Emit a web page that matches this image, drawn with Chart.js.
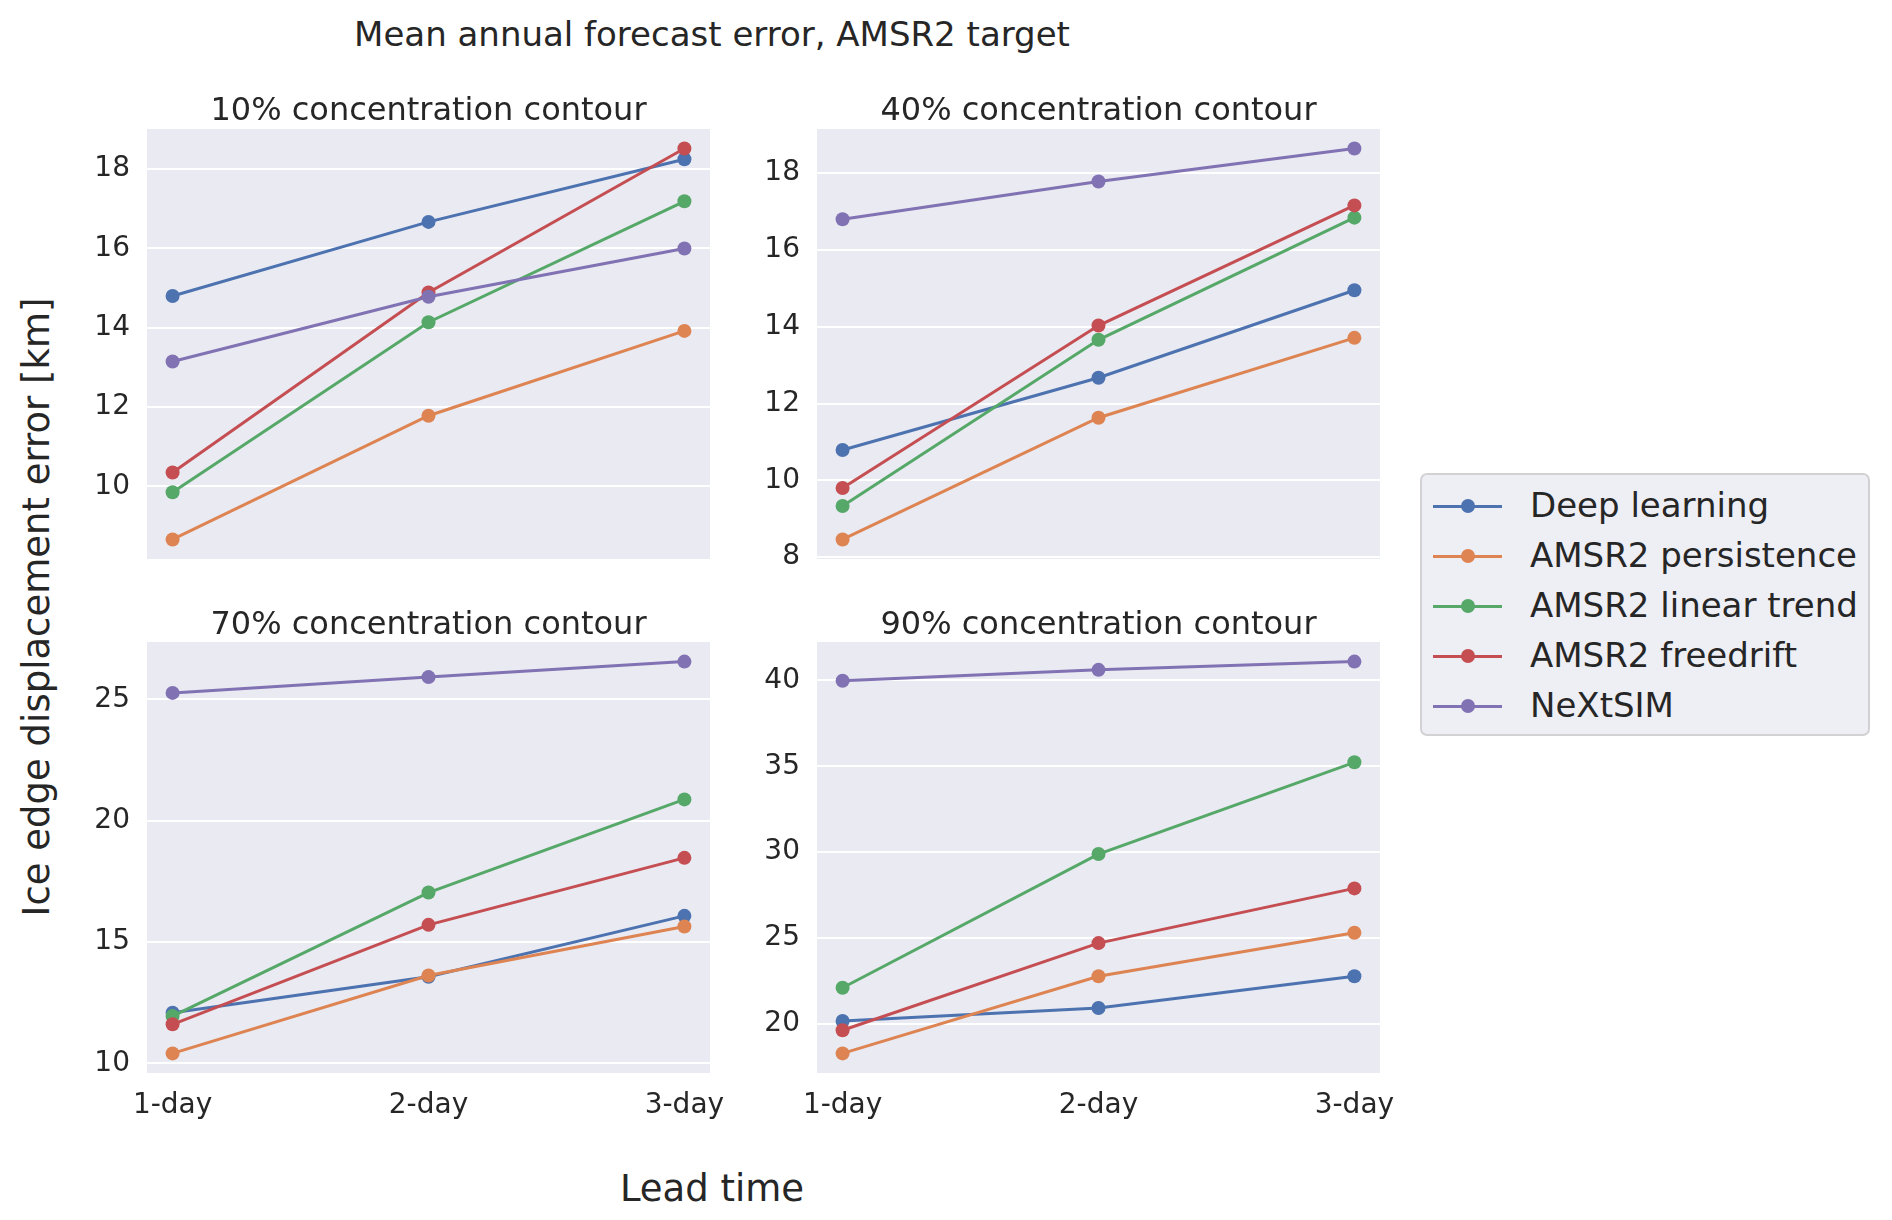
<!DOCTYPE html>
<html>
<head>
<meta charset="utf-8">
<title>Mean annual forecast error, AMSR2 target</title>
<script src="https://cdn.jsdelivr.net/npm/chart.js@4.4.1/dist/chart.umd.min.js"></script>
<style>
    body { margin: 0; background: #ffffff; }
    #fig { position: relative; width: 1892px; height: 1220px; font-family: 'DejaVu Sans', sans-serif; color: #262626; overflow: hidden; }
    .txt { position: absolute; white-space: nowrap; line-height: 1; transform: translate(-50%, -50%); }
    canvas { position: absolute; }
    #legend { position: absolute; left: 1420px; top: 473px; width: 450px; height: 263px; box-sizing: border-box;
              background: rgba(234, 234, 242, 0.8); border: 2px solid rgba(204, 204, 204, 0.8); border-radius: 7px; }
    .item { position: absolute; left: 0; width: 100%; height: 0; }
    .item .line { position: absolute; left: 11px; width: 69px; top: -1.5px; height: 3px; }
    .item .dot { position: absolute; left: 39px; top: -7px; width: 14px; height: 14px; border-radius: 50%; }
    .item .lbl { position: absolute; left: 108px; top: 0; font-size: 34px; line-height: 1; transform: translateY(-52%); white-space: nowrap; }
</style>
</head>
<body>
<div id="fig">
    <div class="txt" style="left:712px; top:34px; font-size:34px;">Mean annual forecast error, AMSR2 target</div>
    <div class="txt" style="left:712px; top:1188px; font-size:37px;">Lead time</div>
    <div class="txt" style="left:36px; top:607px; font-size:37px; transform:translate(-50%, -50%) rotate(-90deg);">Ice edge displacement error [km]</div>
    <div id="legend"></div>
</div>

<script>
'use strict';

// ===== DONNEES =====
const leadTimes = ['1-day', '2-day', '3-day'];
const seriesNames = ['Deep learning', 'AMSR2 persistence', 'AMSR2 linear trend', 'AMSR2 freedrift', 'NeXtSIM'];
const panelTitles = ['10% concentration contour', '40% concentration contour',
                     '70% concentration contour', '90% concentration contour'];

// one row per series, one value per lead time (km)
const err10 = [
    [14.80, 16.67, 18.25],
    [8.66, 11.78, 13.92],
    [9.85, 14.14, 17.19],
    [10.35, 14.89, 18.52],
    [13.15, 14.78, 16.00]
];
const err40 = [
    [10.79, 12.67, 14.95],
    [8.46, 11.63, 13.71],
    [9.33, 13.66, 16.84],
    [9.80, 14.03, 17.16],
    [16.80, 17.78, 18.64]
];
const err70 = [
    [12.09, 13.57, 16.08],
    [10.41, 13.62, 15.64],
    [11.95, 17.04, 20.88],
    [11.61, 15.71, 18.47],
    [25.27, 25.92, 26.56]
];
const err90 = [
    [20.15, 20.91, 22.76],
    [18.26, 22.76, 25.29],
    [22.09, 29.88, 35.23],
    [19.61, 24.69, 27.88],
    [39.98, 40.62, 41.10]
];

const yTicks10 = [10, 12, 14, 16, 18];
const yTicks40 = [8, 10, 12, 14, 16, 18];
const yTicks70 = [10, 15, 20, 25];
const yTicks90 = [20, 25, 30, 35, 40];

// ===== STYLE =====
const palette = ['#4c72b0', '#dd8452', '#55a868', '#c44e52', '#8172b3'];
const textColor = '#262626';
const plotLeft = [147, 817];
const plotTop = [128, 641];
const plotW = 563;
const plotH = 432;
const titleY = [109, 623];
const yAxisW = 100;

Chart.defaults.font.family = "'DejaVu Sans', sans-serif";
Chart.defaults.color = textColor;

// fond gris de la zone de tracé
const plotBg = {
    id: 'plotBg',
    beforeDraw: function(chart) {
        const a = chart.chartArea;
        const ctx = chart.ctx;
        ctx.save();
        ctx.fillStyle = '#eaeaf2';
        ctx.fillRect(a.left, a.top, a.right - a.left, a.bottom - a.top);
        ctx.restore();
    }
};

function noPadding(scale) {
    scale.paddingTop = 0;
    scale.paddingBottom = 0;
    scale.paddingLeft = 0;
    scale.paddingRight = 0;
}

function makePanel(row, col, values, yTicks, title) {
    const fig = document.getElementById('fig');
    const bottomRow = row === 1;
    const padTop = 6, padRight = 16, padBottom = bottomRow ? 0 : 6, xAxisH = bottomRow ? 62 : 0;

    const canvas = document.createElement('canvas');
    canvas.width = yAxisW + plotW + padRight;
    canvas.height = padTop + plotH + padBottom + xAxisH;
    canvas.style.left = (plotLeft[col] - yAxisW) + 'px';
    canvas.style.top = (plotTop[row] - padTop) + 'px';
    fig.appendChild(canvas);

    const t = document.createElement('div');
    t.className = 'txt';
    t.style.left = (plotLeft[col] + plotW / 2) + 'px';
    t.style.top = titleY[row] + 'px';
    t.style.fontSize = '32px';
    t.textContent = title;
    fig.appendChild(t);

    // marges à la matplotlib (5 %)
    const all = values.flat();
    const lo = Math.min.apply(null, all);
    const hi = Math.max.apply(null, all);
    const m = (hi - lo) * 0.05;

    new Chart(canvas, {
        type: 'line',
        data: {
            datasets: seriesNames.map(function(name, i) {
                return {
                    label: name,
                    data: values[i].map(function(v, j) { return { x: j, y: v }; }),
                    borderColor: palette[i],
                    backgroundColor: palette[i],
                    borderWidth: 3,
                    pointRadius: 7,
                    pointHoverRadius: 7,
                    pointBorderWidth: 0,
                    tension: 0,
                    order: seriesNames.length - i
                };
            })
        },
        options: {
            responsive: false,
            animation: false,
            events: [],
            layout: { padding: { left: 0, top: padTop, right: padRight, bottom: padBottom } },
            plugins: { legend: { display: false }, tooltip: { enabled: false } },
            scales: {
                x: {
                    type: 'linear',
                    min: -0.1,
                    max: leadTimes.length - 0.9,
                    border: { display: false },
                    grid: { display: false, drawTicks: false },
                    afterBuildTicks: function(scale) {
                        scale.ticks = leadTimes.map(function(_, j) { return { value: j }; });
                    },
                    afterFit: function(scale) { scale.height = xAxisH; noPadding(scale); },
                    ticks: {
                        display: bottomRow,
                        autoSkip: false,
                        maxRotation: 0,
                        padding: 16,
                        font: { size: 28 },
                        color: textColor,
                        callback: function(v) { return leadTimes[Math.round(v)]; }
                    }
                },
                y: {
                    type: 'linear',
                    min: lo - m,
                    max: hi + m,
                    border: { display: false },
                    grid: { color: '#ffffff', lineWidth: 2, drawTicks: false },
                    afterBuildTicks: function(scale) {
                        scale.ticks = yTicks.map(function(v) { return { value: v }; });
                    },
                    afterFit: function(scale) { scale.width = yAxisW; noPadding(scale); },
                    ticks: {
                        padding: 17,
                        font: { size: 28 },
                        color: textColor
                    }
                }
            }
        },
        plugins: [plotBg]
    });
}

document.addEventListener('DOMContentLoaded', function() {
    makePanel(0, 0, err10, yTicks10, panelTitles[0]);
    makePanel(0, 1, err40, yTicks40, panelTitles[1]);
    makePanel(1, 0, err70, yTicks70, panelTitles[2]);
    makePanel(1, 1, err90, yTicks90, panelTitles[3]);

    // ===== LEGENDE =====
    const legend = document.getElementById('legend');
    seriesNames.forEach(function(name, i) {
        const item = document.createElement('div');
        item.className = 'item';
        item.style.top = (31 + i * 50) + 'px';
        item.innerHTML = '<div class="line"></div><div class="dot"></div><div class="lbl"></div>';
        item.querySelector('.line').style.background = palette[i];
        item.querySelector('.dot').style.background = palette[i];
        item.querySelector('.lbl').textContent = name;
        legend.appendChild(item);
    });
});
</script>
</body>
</html>
